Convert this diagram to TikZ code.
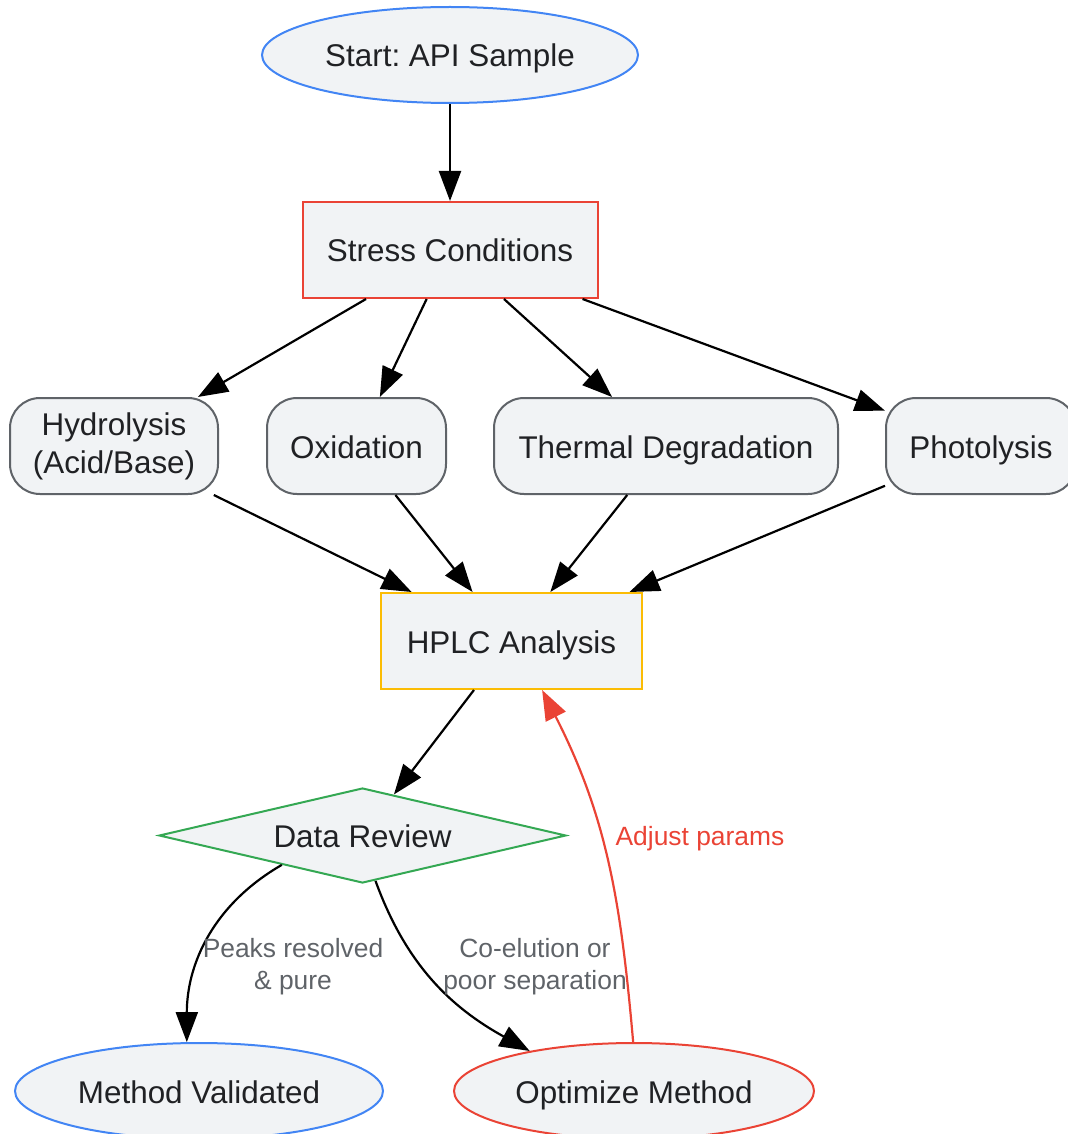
\documentclass[tikz,border=0pt]{standalone}
\usepackage{fontspec}
\setmainfont{Liberation Sans}
\usepackage{xcolor}
\usepackage{tikz}
\usetikzlibrary{arrows.meta}
\usetikzlibrary{shapes.geometric}
\frenchspacing

\definecolor{boxfill}{HTML}{F1F3F5}
\definecolor{gblue}{HTML}{4285F4}
\definecolor{gred}{HTML}{EA4335}
\definecolor{gyellow}{HTML}{FBBC04}
\definecolor{ggreen}{HTML}{34A853}
\definecolor{ggray}{HTML}{5F6368}
\definecolor{ink}{HTML}{202124}

\begin{document}
\begin{tikzpicture}[x=0.5pt,y=-0.5pt,
		box/.style={draw, line width=1pt, fill=boxfill, text=ink, font=\fontsize{15.7}{19}\selectfont, inner sep=0pt, minimum height=48pt, align=center},
		oneline/.style={text height=13.5pt, text depth=1.5pt},
		oval/.style={box, oneline, ellipse},
		stressbox/.style={box, oneline, rectangle},
		roundbox/.style={box, rectangle, draw=ggray, rounded corners=15pt},
		choice/.style={box, oneline, diamond, aspect=4.3, draw=ggreen, minimum height=47.5pt},
		link/.style={-{Triangle[length=15pt,width=11pt]}, line width=1.1pt},
		elabel/.style={text=ggray, font=\fontsize{13.2}{16}\selectfont, align=center}
	]
		\useasboundingbox (0,0) rectangle (1067,1134);
		
		\node [oval, draw=gblue, minimum width=188pt] (start) at (450,55) {Start: API Sample};
		\node [stressbox, draw=gred, minimum width=147.5pt] (stress) at (450,250) {Stress Conditions};
		
		\node [roundbox, minimum width=104pt] (hydro) at (114,446) {Hydrolysis\\(Acid/Base)};
		\node [roundbox, oneline, minimum width=89.5pt] (oxid) at (356.5,446) {Oxidation};
		\node [roundbox, oneline, minimum width=172pt] (thermal) at (666,446) {Thermal Degradation};
		\node [roundbox, oneline, minimum width=95pt] (photo) at (981,446) {Photolysis};
		
		\node [stressbox, draw=gyellow, minimum width=130.5pt] (hplc) at (511.5,641) {HPLC Analysis};
		\node [choice, minimum width=203.5pt] (review) at (362.5,835.5) {Data Review};
		
		\node [oval, draw=gblue, minimum width=184pt] (validated) at (199,1091) {Method Validated};
		\node [oval, draw=gred, minimum width=180pt] (optimize) at (634,1091) {Optimize Method};
		
		\draw [link] (start) -- (stress);
		\draw [link] (stress) -- (hydro);
		\draw [link] (stress) -- (oxid);
		\draw [link] (stress) -- (thermal);
		\draw [link] (stress) -- (photo);
		
		\draw [link] (hydro) -- (hplc);
		\draw [link] (oxid) -- (hplc);
		\draw [link] (thermal) -- (hplc);
		\draw [link] (photo) -- (hplc);
		
		\draw [link] (hplc) -- (review);
		\draw [link] (review.200) to [out=210,in=90] (validated.104);
		\draw [link] (review.286) to [out=290,in=151] (optimize.159);
		\draw [link, gred] (optimize.91) to [out=95,in=-63] (hplc.302);
		
		\node [elabel] (peaks) at (293,967) {Peaks resolved\\\& pure};
		\node [elabel] (coelution) at (535,967) {Co-elution or\\poor separation};
		\node [elabel, text=gred] (adjust) at (700,839) {Adjust params};
	\end{tikzpicture}
\end{document}
